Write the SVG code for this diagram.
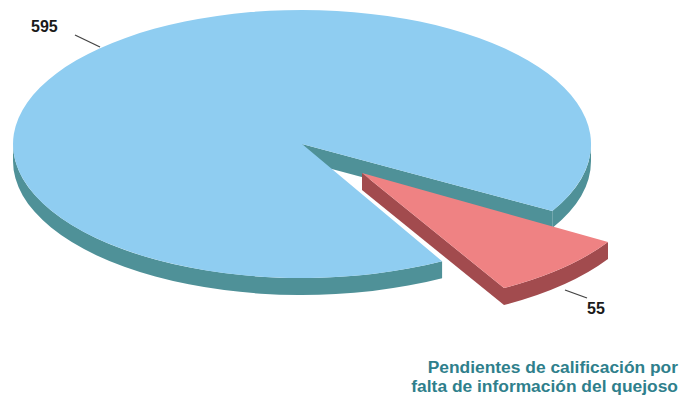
<svg xmlns="http://www.w3.org/2000/svg" width="684" height="398" viewBox="0 0 684 398">
<style>
.btop{fill:#8fcdf1}
.bside{fill:#4f9198}
.rtop{fill:#ef8283}
.rside{fill:#a24b4e}
.lbl{font-family:"Liberation Sans",Arial,sans-serif;font-weight:bold;font-size:16px;fill:#1a1a1a}
.ttl{font-family:"Liberation Sans",Arial,sans-serif;font-weight:bold;font-size:17.4px;fill:#2f7f8c;text-anchor:end}
.lead{stroke:#444;stroke-width:1.3;fill:none}
</style>
<rect width="684" height="398" fill="#ffffff"/>
<g id="slice-595">
<path class="bside" d="M302,144 L552.3,211 L552.3,228 L302,161 Z"/>
<path class="bside" d="M442.1,261.2 A289,134 0 0,1 13,144 L13,161 A289,134 0 0,0 442.1,278.2 Z"/>
<path class="bside" d="M591,144 A289,134 0 0,1 552.3,211 L552.3,228 A289,134 0 0,0 591,161 Z"/>
<path class="btop" d="M302,144 L442.1,261.2 A289,134 0 1,1 552.3,211 Z"/>
</g>
<g id="slice-55">
<path class="rside" d="M362,173 L504,288 L504,305 L362,190 Z"/>
<path class="rside" d="M608,242 A289,134 0 0,1 504,288 L504,305 A289,134 0 0,0 608,259 Z"/>
<path class="rtop" d="M362,173 L608,242 A289,134 0 0,1 504,288 Z"/>
</g>
<g id="connectors">
<line class="lead" x1="75" y1="35" x2="100" y2="47"/>
<line class="lead" x1="565" y1="290" x2="587" y2="298"/>
</g>
<g id="labels">
<text class="lbl" x="31" y="32">595</text>
<text class="lbl" x="587" y="314">55</text>
</g>
<g id="title">
<text class="ttl" x="678" y="373">Pendientes de calificación por</text>
<text class="ttl" x="678" y="392">falta de información del quejoso</text>
</g>
</svg>
